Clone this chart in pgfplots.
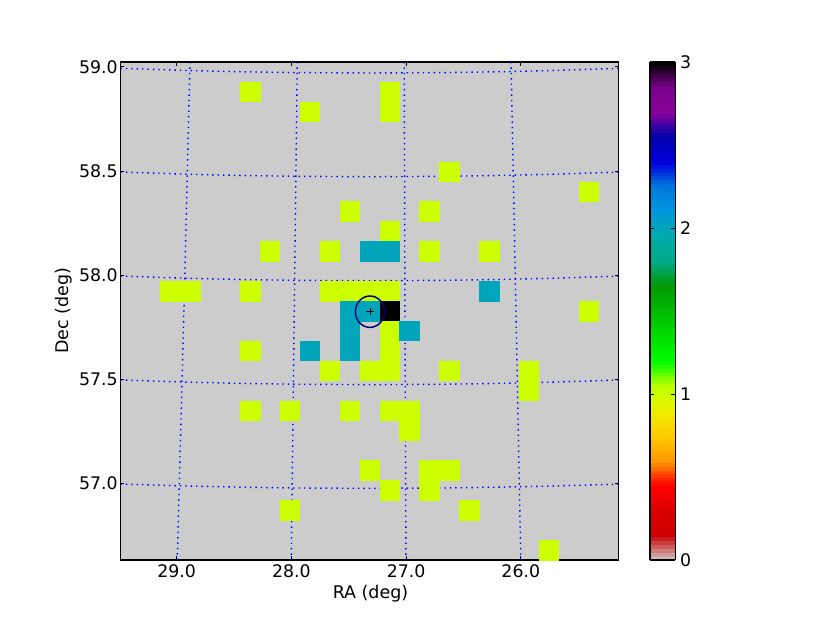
\documentclass[border=0pt]{standalone}
\usepackage{pgfplots}
\usepackage{pgfplotstable}
\usepackage{fontspec}
\setmainfont{DejaVu Sans}
\pgfplotsset{compat=1.18}
\pgfplotstableread{
RA Dec val
28.361 58.8792 1
27.145 58.8792 1
27.145 58.7835 1
27.840 58.7835 1
26.624 58.4967 1
25.408 58.4010 1
27.492 58.3054 1
26.798 58.3054 1
27.145 58.2098 1
28.187 58.1142 1
27.666 58.1142 1
26.798 58.1142 1
26.276 58.1142 1
27.319 58.1142 2
27.145 58.1142 2
29.056 57.9230 1
28.882 57.9230 1
28.361 57.9230 1
27.666 57.9230 1
27.492 57.9230 1
27.319 57.9230 1
27.145 57.9230 1
26.276 57.9230 2
27.492 57.8273 2
27.319 57.8273 2
27.145 57.8273 3
25.408 57.8273 1
27.492 57.7317 2
27.145 57.7317 1
26.971 57.7317 2
28.361 57.6360 1
27.840 57.6360 2
27.492 57.6360 2
27.145 57.6360 1
27.666 57.5404 1
27.319 57.5404 1
27.145 57.5404 1
26.624 57.5404 1
25.929 57.5404 1
25.929 57.4448 1
28.361 57.3491 1
28.014 57.3491 1
27.492 57.3491 1
27.145 57.3491 1
26.971 57.3491 1
26.971 57.2535 1
27.319 57.0622 1
26.798 57.0622 1
26.624 57.0622 1
27.145 56.9666 1
26.798 56.9666 1
28.014 56.8710 1
26.450 56.8710 1
25.755 56.6797 1
}\cells
\pgfplotsset{skygrid/.style={blue,line width=1.05pt,dash pattern=on 1.05pt off 3pt,forget plot}}
\begin{document}
\begin{tikzpicture}
\useasboundingbox (-90.375pt,-47.25pt) rectangle (532.125pt,420pt);
\begin{axis}[
  scale only axis, width=373.5pt, height=373.5pt,
  x dir=reverse,
  xmin=25.148, xmax=29.49, ymin=56.632, ymax=59.0226,
  xtick={29,28,27,26}, ytick={57,57.5,58,58.5,59},
  tick align=inside, major tick length=3pt, tick style={black,line width=0.5pt},
  axis line style={black,line width=0.8pt},
  /pgf/number format/assume math mode=true,
  /pgf/number format/fixed, /pgf/number format/fixed zerofill, /pgf/number format/precision=1,
  tick label style={font=\fontsize{13}{15}\selectfont},
  yticklabel style={xshift=1.4pt},
  label style={font=\fontsize{13.1}{15}\selectfont},
  xlabel={RA (deg)}, ylabel={Dec (deg)},
  xlabel style={at={(axis description cs:0.502,-0.067)},anchor=center},
  ylabel style={at={(axis description cs:-0.115,0.5)},anchor=center,rotate=0},
  axis background/.style={fill={rgb,1:red,0.8;green,0.8;blue,0.8}},
  colormap={specg}{rgb(0pt)=(.8,.8,.8); rgb(5pt)=(.8,0,0); rgb(10pt)=(.8667,0,0); rgb(15pt)=(1,0,0);
    rgb(20pt)=(1,.6,0); rgb(25pt)=(1,.8,0); rgb(30pt)=(.9333,.9333,0); rgb(33.33pt)=(.8,1,0); rgb(35pt)=(.7333,1,0);
    rgb(40pt)=(0,1,0); rgb(45pt)=(0,.8667,0); rgb(50pt)=(0,.7333,0); rgb(55pt)=(0,.6,0);
    rgb(60pt)=(0,.6667,.5333); rgb(65pt)=(0,.6667,.6667); rgb(70pt)=(0,.6,.8667); rgb(75pt)=(0,.4667,.8667);
    rgb(80pt)=(0,0,.8667); rgb(85pt)=(0,0,.6667); rgb(90pt)=(.5333,0,.6); rgb(95pt)=(.4667,0,.5333); rgb(100pt)=(0,0,0)},
  point meta min=0, point meta max=3,
  colorbar sampled,
  colorbar style={
    at={(1.0633,1)}, anchor=north west,
    width=19.1pt, height=373.5pt,
    samples=128,
    ytick={0,1,2,3}, yticklabel pos=right,
    tick align=inside, major tick length=3pt,
    /pgf/number format/assume math mode=true,
    /pgf/number format/precision=0,
    /pgf/number format/fixed zerofill=false,
    yticklabel style={font=\fontsize{13}{15}\selectfont,xshift=0pt},
    axis line style={black,line width=0.8pt},
    ytick style={black,line width=0.5pt},
  },
]
\addplot[scatter, only marks, mark=square*, mark size=7.3pt,
  mark options={line width=0.3pt},
  scatter/use mapped color={draw=mapped color,fill=mapped color}, point meta=explicit]
  table[x=RA,y=Dec,meta=val] {\cells};
\addplot[skygrid] coordinates {(29.490,58.9924)(28.884,58.9813)(28.405,58.9754)(27.951,58.9717)(27.315,58.9698)(26.678,58.9717)(26.225,58.9754)(25.745,58.9813)(25.148,58.9920)};
\addplot[skygrid] coordinates {(29.490,58.4945)(28.884,58.4834)(28.405,58.4775)(27.951,58.4738)(27.315,58.4719)(26.678,58.4738)(26.225,58.4775)(25.745,58.4834)(25.148,58.4941)};
\addplot[skygrid] coordinates {(29.490,57.9952)(28.884,57.9841)(28.405,57.9782)(27.951,57.9745)(27.315,57.9726)(26.678,57.9745)(26.225,57.9782)(25.745,57.9841)(25.148,57.9948)};
\addplot[skygrid] coordinates {(29.490,57.4964)(28.884,57.4853)(28.405,57.4794)(27.951,57.4757)(27.315,57.4738)(26.678,57.4757)(26.225,57.4794)(25.745,57.4853)(25.148,57.4960)};
\addplot[skygrid] coordinates {(29.490,56.9966)(28.884,56.9870)(28.405,56.9812)(27.951,56.9776)(27.315,56.9760)(26.678,56.9776)(26.225,56.9812)(25.745,56.9870)(25.148,56.9960)};
\addplot[skygrid] coordinates {(28.884,59.0226)(28.937,57.827)(28.995,56.632)};
\addplot[skygrid] coordinates {(27.949,59.0226)(27.975,57.827)(28.001,56.632)};
\addplot[skygrid] coordinates {(27.016,59.0226)(27.010,57.827)(27.001,56.632)};
\addplot[skygrid] coordinates {(26.085,59.0226)(26.042,57.827)(26.000,56.632)};
\addplot[only marks, mark=o, mark size=10.9pt, forget plot,
  mark options={draw={rgb,1:red,0;green,0;blue,0.5},line width=1.1pt,yscale=1.08,fill=none}] coordinates {(27.315,57.824)};
\addplot[only marks, mark=+, mark size=2.7pt, forget plot,
  mark options={draw=black,line width=0.4pt}] coordinates {(27.315,57.824)};
\end{axis}
\end{tikzpicture}
\end{document}
